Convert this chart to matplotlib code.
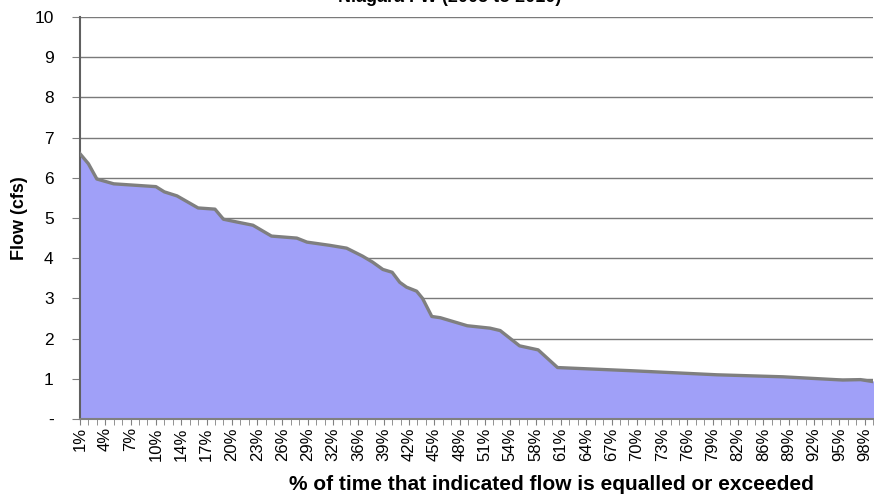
import numpy as np
import matplotlib.pyplot as plt

plt.rcParams['font.family'] = ['Liberation Sans', 'DejaVu Sans']

# flow-duration curve, breakpoints (category index -> flow in cfs)
cat_index = [0, 1, 2, 4, 9, 10, 11.5, 14, 16, 17, 18.6, 20.5, 22.7, 25.7, 26.9,
             29.6, 31.6, 33.5, 34.7, 35.9, 37, 37.9, 38.7, 39.9, 40.6, 41.7,
             42.7, 45.9, 48.6, 49.8, 52.1, 54.3, 56.6, 65.5, 75.5, 83.3,
             90.4, 92.5, 94]
flow = [6.6, 6.35, 5.97, 5.85, 5.78, 5.65, 5.55, 5.25, 5.22, 4.97, 4.9, 4.82,
        4.55, 4.5, 4.4, 4.32, 4.25, 4.05, 3.9, 3.72, 3.65, 3.4, 3.28, 3.18,
        3.0, 2.55, 2.52, 2.32, 2.26, 2.2, 1.82, 1.72, 1.28, 1.2, 1.1, 1.05,
        0.97, 0.98, 0.93]

n_cats = 95
tick_labels = ['1%', '4%', '7%', '10%', '14%', '17%', '20%', '23%', '26%', '29%',
               '32%', '36%', '39%', '42%', '45%', '48%', '51%', '54%', '58%',
               '61%', '64%', '67%', '70%', '73%', '76%', '79%', '82%', '86%',
               '89%', '92%', '95%', '98%']
y_ticks = list(range(0, 11))
y_labels = ['-'] + [str(v) for v in y_ticks[1:]]

fig = plt.figure(figsize=(8.74, 4.95), dpi=100)
ax = fig.add_axes([0.0915, 0.1535, 0.9075, 0.8122])

ax.fill_between(cat_index, flow, 0, color='#a0a0f8', zorder=2)
ax.plot(cat_index, flow, color='#7f7f7f', lw=2.4, zorder=3)

ax.set_xlim(0, n_cats - 1)
ax.set_ylim(0, 10)
ax.set_yticks(y_ticks)
ax.set_yticklabels(y_labels, fontsize=12.5)
ax.grid(axis='y', color='#7a7a7a', lw=1.0, zorder=1)

ax.set_xticks(np.arange(0, n_cats, 3))
ax.set_xticklabels(tick_labels, rotation=90, fontsize=12)
ax.set_xticks(np.arange(n_cats), minor=True)
ax.tick_params(axis='x', which='both', length=4, color='#808080', pad=2)
ax.tick_params(axis='y', length=6, color='#808080', pad=13)

for side in ['top', 'right']:
    ax.spines[side].set_visible(False)
ax.spines['left'].set_color('#606060')
ax.spines['left'].set_linewidth(1.5)
ax.spines['bottom'].set_color('#808080')
ax.spines['bottom'].set_linewidth(1.5)

ax.set_ylabel('Flow (cfs)', fontsize=13, fontweight='bold')
ax.set_xlabel('% of time that indicated flow is equalled or exceeded',
              fontsize=15, fontweight='bold')
ax.xaxis.set_label_coords(0.594, -0.14)
ax.yaxis.set_label_coords(-0.066, 0.5)

fig.text(0.515, 1.006, 'Niagara FW (2005 to 2010)', ha='center', va='center',
         fontsize=13, fontweight='bold')

fig.savefig('out.png', dpi=100)
